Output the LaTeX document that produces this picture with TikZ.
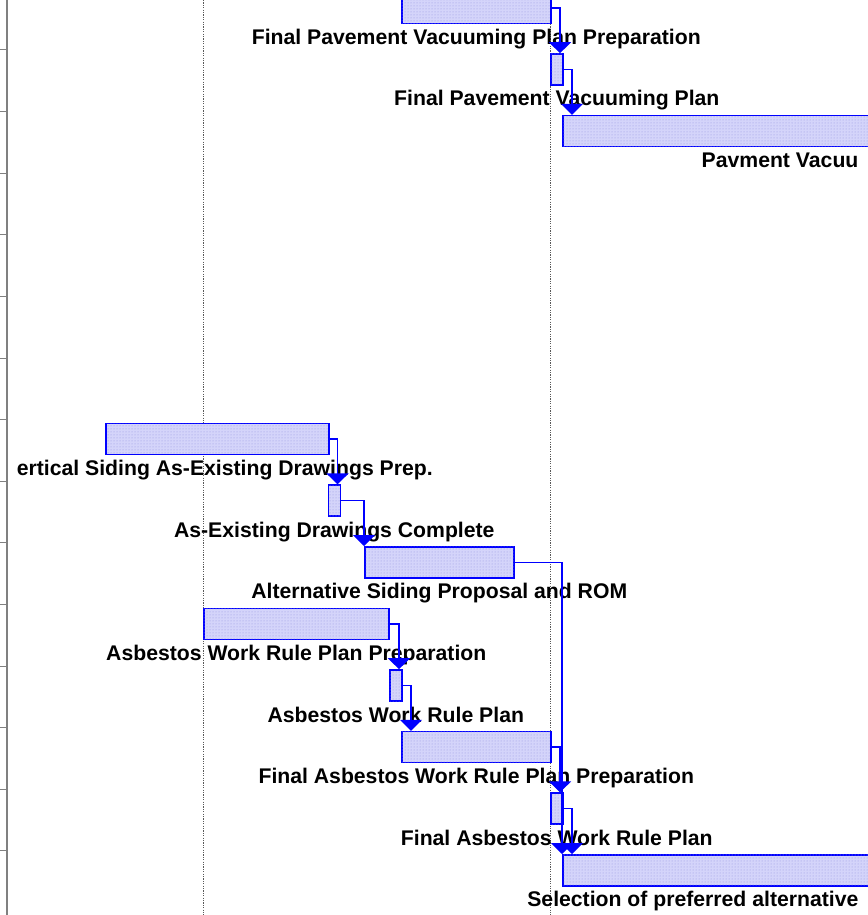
\documentclass[tikz,border=0pt]{standalone}
\usepackage{fontspec}
\setmainfont{Liberation Sans}
\usetikzlibrary{positioning,arrows.meta,patterns}

\definecolor{barfill}{RGB}{212,212,250}
\definecolor{bardots}{RGB}{150,150,225}
\definecolor{axisgray}{RGB}{128,128,128}

\begin{document}
\begin{tikzpicture}[x=1pt,y=-1pt,
  bar/.style={draw=blue, line width=1.6pt, fill=barfill,
    postaction={pattern=dots, pattern color=bardots},
    anchor=north west, inner sep=0pt, minimum height=31pt},
  lbl/.style={font=\fontsize{21.2}{25}\selectfont\bfseries, inner sep=0pt,
    text height=15pt, text depth=4pt},
  link/.style={blue, line width=1.3pt, -{Triangle[width=22pt,length=11pt]}},
  gridline/.style={black!65, line width=1pt, dash pattern=on 1.2pt off 1.2pt}]
  \useasboundingbox (0,0) rectangle (867,915);

  % Time scale grid
  \draw[gridline] (203,0) -- (203,915);
  \draw[gridline] (550,0) -- (550,915);

  % Row axis with ticks
  \draw[axisgray, line width=2pt] (7,0) -- (7,915);
  \foreach \r in {0,...,13}
    \draw[axisgray, line width=1pt] (0,{50+61.6*\r}) -- (7,{50+61.6*\r});

  % Pavement vacuuming tasks
  \node[bar, minimum width=149pt] (b1) at (401,-8.4) {};
  \node[lbl, below=5pt of b1] {Final Pavement Vacuuming Plan Preparation};
  \node[bar, minimum width=12pt] (b2) at (550,53.2) {};
  \node[lbl, below=5pt of b2] {Final Pavement Vacuuming Plan};
  \node[bar, minimum width=330pt] (b3) at (562,114.8) {};
  \node[lbl, below=5pt of b3.south east, anchor=north east, xshift=-35pt] {Pavment Vacuu};

  % Siding tasks
  \node[bar, minimum width=223pt] (b8) at (105,422.8) {};
  \node[lbl, below=5pt of b8, xshift=7.5pt] {ertical Siding As-Existing Drawings Prep.};
  \node[bar, minimum width=12pt] (b9) at (327.5,484.4) {};
  \node[lbl, below=5pt of b9] {As-Existing Drawings Complete};
  \node[bar, minimum width=149pt] (b10) at (364,546) {};
  \node[lbl, below=5pt of b10] {Alternative Siding Proposal and ROM};

  % Asbestos tasks
  \node[bar, minimum width=185pt] (b11) at (203,607.6) {};
  \node[lbl, below=5pt of b11] {Asbestos Work Rule Plan Preparation};
  \node[bar, minimum width=12pt] (b12) at (389,669.2) {};
  \node[lbl, below=5pt of b12] {Asbestos Work Rule Plan};
  \node[bar, minimum width=149pt] (b13) at (401,730.8) {};
  \node[lbl, below=5pt of b13] {Final Asbestos Work Rule Plan Preparation};
  \node[bar, minimum width=12pt] (b14) at (550,792.4) {};
  \node[lbl, below=5pt of b14] {Final Asbestos Work Rule Plan};
  \node[bar, minimum width=330pt] (b15) at (562,854) {};
  \node[lbl, below=5pt of b15.south east, anchor=north east, xshift=-35pt] {Selection of preferred alternative};

  % Finish-to-start links
  \draw[link] (b1.east) -| ([xshift=10pt]b2.north west);
  \draw[link] (b2.east) -| ([xshift=10pt]b3.north west);
  \draw[link] (b8.east) -| ([xshift=10pt]b9.north west);
  \draw[link] (b9.east) -| (b10.north west);
  \draw[link] (b10.east) -| (b15.north west);
  \draw[link] (b11.east) -| ([xshift=10pt]b12.north west);
  \draw[link] (b12.east) -| ([xshift=10pt]b13.north west);
  \draw[link] (b13.east) -| ([xshift=10pt]b14.north west);
  \draw[link] (b14.east) -| ([xshift=10pt]b15.north west);
\end{tikzpicture}
\end{document}
